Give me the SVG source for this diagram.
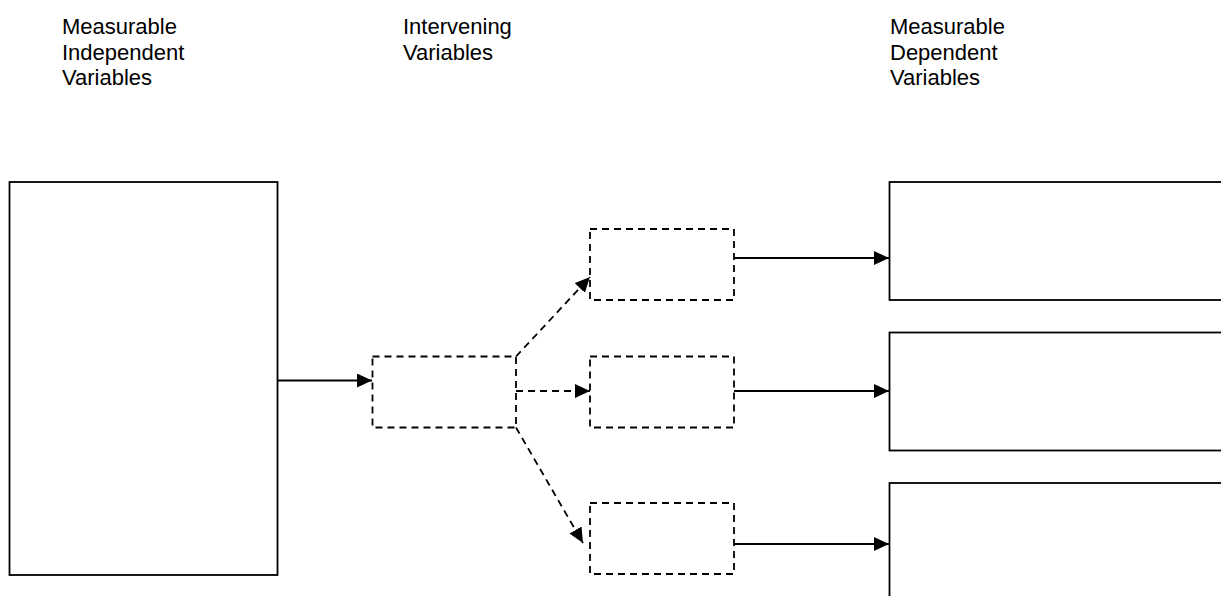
<svg xmlns="http://www.w3.org/2000/svg" width="1221" height="596" viewBox="0 0 1221 596">
<defs>
<style>
.lbl{font-family:"Liberation Sans",Arial,sans-serif;font-size:22px;fill:#000}
.solid{fill:#fff;stroke:#000;stroke-width:1.8}
.dash{fill:#fff;stroke:#000;stroke-width:1.8;stroke-dasharray:7,5}
.conn{fill:none;stroke:#000;stroke-width:1.8}
.conn-d{fill:none;stroke:#000;stroke-width:1.8;stroke-dasharray:7,5}
</style>
<marker id="ahb" viewBox="0 0 15 14" refX="15" refY="7" markerWidth="15" markerHeight="14" markerUnits="userSpaceOnUse" orient="auto">
<path d="M0,0 L15,7 L0,14 z" fill="#000"/>
</marker>
</defs>
<rect width="1221" height="596" fill="#fff"/>
<g id="labels">
<text class="lbl" x="62" y="34">Measurable</text>
<text class="lbl" x="62" y="59.5">Independent</text>
<text class="lbl" x="62" y="85">Variables</text>
<text class="lbl" x="403" y="34">Intervening</text>
<text class="lbl" x="403" y="59.5">Variables</text>
<text class="lbl" x="890" y="34">Measurable</text>
<text class="lbl" x="890" y="59.5">Dependent</text>
<text class="lbl" x="890" y="85">Variables</text>
</g>
<g id="independent"><rect class="solid" x="9.5" y="182" width="268" height="393"/></g>
<g id="intervening"><rect class="dash" x="372.5" y="356.5" width="143.5" height="71"/></g>
<g id="int-top"><rect class="dash" x="590" y="229" width="144" height="71"/></g>
<g id="int-mid"><rect class="dash" x="590" y="356.5" width="144" height="71"/></g>
<g id="int-bot"><rect class="dash" x="590" y="503" width="144" height="71"/></g>
<g id="dep-top"><rect class="solid" x="889.5" y="182" width="340" height="118"/></g>
<g id="dep-mid"><rect class="solid" x="889.5" y="332.5" width="340" height="118"/></g>
<g id="dep-bot"><rect class="solid" x="889.5" y="483" width="340" height="120"/></g>
<g id="connectors">
<line class="conn" x1="277.5" y1="380.5" x2="372" y2="380.5" marker-end="url(#ahb)"/>
<line class="conn-d" x1="516" y1="356.5" x2="590" y2="277" marker-end="url(#ahb)"/>
<line class="conn-d" x1="516" y1="391" x2="590" y2="391" marker-end="url(#ahb)"/>
<line class="conn-d" x1="516" y1="427.5" x2="583" y2="543" marker-end="url(#ahb)"/>
<line class="conn" x1="734" y1="258" x2="889" y2="258" marker-end="url(#ahb)"/>
<line class="conn" x1="734" y1="391" x2="889" y2="391" marker-end="url(#ahb)"/>
<line class="conn" x1="734" y1="544" x2="889" y2="544" marker-end="url(#ahb)"/>
</g>
</svg>
